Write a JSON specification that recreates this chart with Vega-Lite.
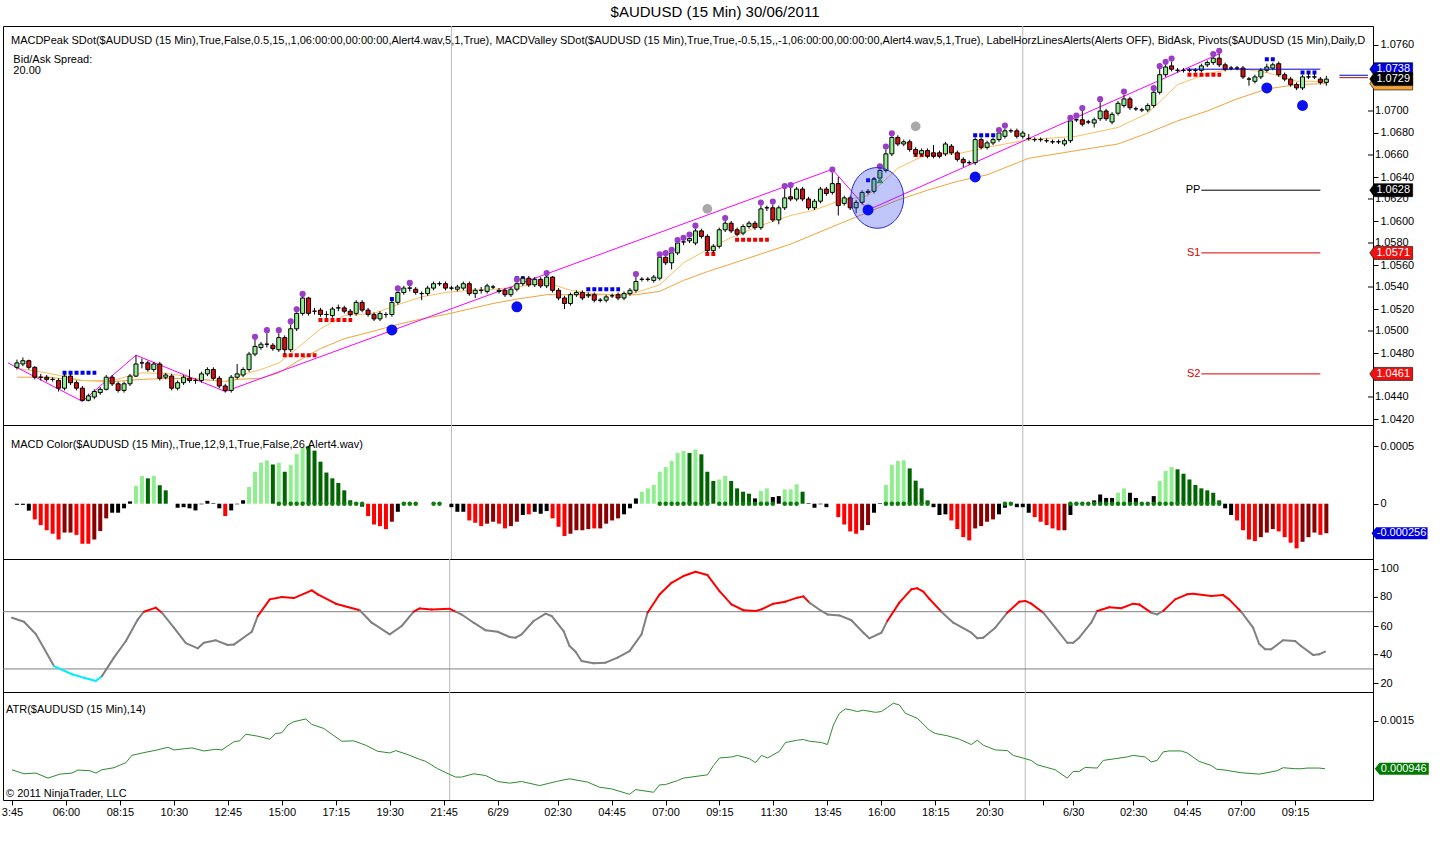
{
  "$schema": "https://vega.github.io/schema/vega-lite/v6.json",
  "padding": {"top": 5, "left": 0, "right": 0, "bottom": 0},
  "background": "white",
  "spacing": 0,
  "bounds": "flush",
  "resolve": {"scale": {"color": "independent"}},
  "title": {"text": "$AUDUSD (15 Min)  30/06/2011", "fontSize": 15, "fontWeight": "normal", "font": "Liberation Sans", "color": "#000000", "offset": 5, "anchor": "middle"},
  "config": {
    "font": "Liberation Sans",
    "view": {"stroke": "#000000", "strokeWidth": 1},
    "axis": {"grid": false, "domain": false, "labelFont": "Liberation Sans", "labelFontSize": 11, "labelColor": "#000000", "tickColor": "#000000", "tickSize": 5, "labelPadding": 2, "labelOverlap": false, "labelBound": false}
  },
  "datasets": {
    "sessions": [{"i": 73}, {"i": 169}],
    "pticks": [{"v":1.044},{"v":1.05},{"v":1.054},{"v":1.058},{"v":1.062},{"v":1.066},{"v":1.07}],
    "oticks": [{"v":40},{"v":80}],
    "bars": [
      {"i":0,"o":1.0467,"h":1.0474,"l":1.0465,"c":1.0471,"m":-0.00001,"s":"k"},
      {"i":1,"o":1.047,"h":1.0476,"l":1.0468,"c":1.0473,"m":-0.00001,"s":"k"},
      {"i":2,"o":1.0473,"h":1.0474,"l":1.0465,"c":1.0467,"m":-0.00006,"s":"k"},
      {"i":3,"o":1.0467,"h":1.0468,"l":1.0456,"c":1.0458,"m":-0.000136,"s":"rd"},
      {"i":4,"o":1.0458,"h":1.0461,"l":1.0455,"c":1.0458,"m":-0.000185,"s":"rd"},
      {"i":5,"o":1.0458,"h":1.046,"l":1.0454,"c":1.0456,"m":-0.00023,"s":"rd"},
      {"i":6,"o":1.0456,"h":1.0458,"l":1.0454,"c":1.0456,"m":-0.00026,"s":"rd"},
      {"i":7,"o":1.0455,"h":1.0457,"l":1.0445,"c":1.0448,"m":-0.00031,"s":"rd"},
      {"i":8,"o":1.0448,"h":1.0461,"l":1.0446,"c":1.0459,"m":-0.00025,"s":"ru"},
      {"i":9,"o":1.0459,"h":1.0461,"l":1.0451,"c":1.0453,"m":-0.00025,"s":"ru"},
      {"i":10,"o":1.0453,"h":1.0455,"l":1.0446,"c":1.0448,"m":-0.00027,"s":"rd"},
      {"i":11,"o":1.0448,"h":1.045,"l":1.0436,"c":1.0437,"m":-0.000347,"s":"rd"},
      {"i":12,"o":1.0437,"h":1.0443,"l":1.0436,"c":1.0441,"m":-0.000347,"s":"rd"},
      {"i":13,"o":1.044,"h":1.0447,"l":1.0438,"c":1.0445,"m":-0.00031,"s":"ru"},
      {"i":14,"o":1.0444,"h":1.0449,"l":1.0442,"c":1.0447,"m":-0.000237,"s":"ru"},
      {"i":15,"o":1.0447,"h":1.046,"l":1.0446,"c":1.0458,"m":-0.000127,"s":"ru"},
      {"i":16,"o":1.0458,"h":1.046,"l":1.045,"c":1.0452,"m":-0.000078,"s":"k"},
      {"i":17,"o":1.0452,"h":1.0454,"l":1.0444,"c":1.0446,"m":-0.000078,"s":"k"},
      {"i":18,"o":1.0446,"h":1.0454,"l":1.0444,"c":1.0452,"m":-0.00004,"s":"k"},
      {"i":19,"o":1.0452,"h":1.0461,"l":1.045,"c":1.0459,"m":0.00002,"s":"k"},
      {"i":20,"o":1.0459,"h":1.0478,"l":1.0458,"c":1.047,"m":0.000153,"s":"gu"},
      {"i":21,"o":1.0471,"h":1.0475,"l":1.0466,"c":1.0471,"m":0.00024,"s":"gu"},
      {"i":22,"o":1.0471,"h":1.0473,"l":1.0463,"c":1.0465,"m":0.00022,"s":"gd"},
      {"i":23,"o":1.0465,"h":1.0472,"l":1.0463,"c":1.047,"m":0.00024,"s":"gu"},
      {"i":24,"o":1.047,"h":1.0472,"l":1.0455,"c":1.0457,"m":0.00016,"s":"gd"},
      {"i":25,"o":1.0458,"h":1.0462,"l":1.0456,"c":1.046,"m":0.000116,"s":"gd"},
      {"i":26,"o":1.0459,"h":1.0461,"l":1.0446,"c":1.0448,"m":0,"s":"k"},
      {"i":27,"o":1.0448,"h":1.0455,"l":1.0446,"c":1.0453,"m":-0.000035,"s":"k"},
      {"i":28,"o":1.0453,"h":1.046,"l":1.0451,"c":1.0458,"m":-0.00003,"s":"k"},
      {"i":29,"o":1.0457,"h":1.0465,"l":1.0453,"c":1.0455,"m":-0.00004,"s":"k"},
      {"i":30,"o":1.0455,"h":1.0457,"l":1.0452,"c":1.0455,"m":-0.000058,"s":"k"},
      {"i":31,"o":1.0455,"h":1.0463,"l":1.0453,"c":1.0461,"m":-0.000005,"s":"k"},
      {"i":32,"o":1.0461,"h":1.0467,"l":1.0459,"c":1.0465,"m":0.000025,"s":"k"},
      {"i":33,"o":1.0465,"h":1.0467,"l":1.0455,"c":1.0457,"m":0.000005,"s":"k"},
      {"i":34,"o":1.0457,"h":1.0459,"l":1.0448,"c":1.045,"m":-0.00004,"s":"k"},
      {"i":35,"o":1.045,"h":1.0452,"l":1.0444,"c":1.0446,"m":-0.000107,"s":"rd"},
      {"i":36,"o":1.0446,"h":1.046,"l":1.0444,"c":1.0458,"m":-0.000058,"s":"k"},
      {"i":37,"o":1.0458,"h":1.047,"l":1.0456,"c":1.0461,"m":-0.000005,"s":"k"},
      {"i":38,"o":1.046,"h":1.0467,"l":1.0458,"c":1.0465,"m":0.00003,"s":"k"},
      {"i":39,"o":1.0465,"h":1.0481,"l":1.0463,"c":1.0479,"m":0.000145,"s":"gu"},
      {"i":40,"o":1.0479,"h":1.0492,"l":1.0477,"c":1.0486,"m":0.000277,"s":"gu","pk":1},
      {"i":41,"o":1.0485,"h":1.049,"l":1.0483,"c":1.0488,"m":0.000355,"s":"gu"},
      {"i":42,"o":1.0488,"h":1.0498,"l":1.0485,"c":1.0488,"m":0.000376,"s":"gu","pk":1},
      {"i":43,"o":1.0487,"h":1.0489,"l":1.0482,"c":1.0484,"m":0.00034,"s":"gd"},
      {"i":44,"o":1.0483,"h":1.0498,"l":1.0481,"c":1.0494,"m":0.000355,"s":"gu","pk":1,"g":1},
      {"i":45,"o":1.0494,"h":1.0496,"l":1.0479,"c":1.0483,"m":0.000277,"s":"gd","g":1},
      {"i":46,"o":1.0483,"h":1.0506,"l":1.0481,"c":1.0502,"m":0.000335,"s":"gu","pk":1,"g":1},
      {"i":47,"o":1.0502,"h":1.0517,"l":1.05,"c":1.0516,"m":0.00043,"s":"gu","pk":1,"g":1},
      {"i":48,"o":1.0516,"h":1.0531,"l":1.0514,"c":1.053,"m":0.00049,"s":"gu","pk":1,"g":1},
      {"i":49,"o":1.053,"h":1.0531,"l":1.0514,"c":1.0516,"m":0.0005,"s":"gd","g":1},
      {"i":50,"o":1.0518,"h":1.0521,"l":1.0515,"c":1.0518,"m":0.00046,"s":"gd","g":1},
      {"i":51,"o":1.0519,"h":1.0521,"l":1.0513,"c":1.0515,"m":0.000364,"s":"gd","g":1},
      {"i":52,"o":1.0515,"h":1.0518,"l":1.0512,"c":1.0515,"m":0.00027,"s":"gd","g":1},
      {"i":53,"o":1.0514,"h":1.0522,"l":1.0512,"c":1.052,"m":0.00022,"s":"gd","g":1},
      {"i":54,"o":1.0521,"h":1.0524,"l":1.0518,"c":1.0521,"m":0.00018,"s":"gd","g":1},
      {"i":55,"o":1.0521,"h":1.0523,"l":1.0516,"c":1.0518,"m":0.000116,"s":"gd","g":1},
      {"i":56,"o":1.0518,"h":1.052,"l":1.0513,"c":1.0515,"m":0.00003,"s":"gd","g":1},
      {"i":57,"o":1.0516,"h":1.0528,"l":1.0514,"c":1.0526,"m":0.00001,"s":"gd","g":1},
      {"i":58,"o":1.0526,"h":1.0528,"l":1.0517,"c":1.0519,"m":-0.000025,"s":"k","g":1},
      {"i":59,"o":1.0519,"h":1.0521,"l":1.0513,"c":1.0515,"m":-0.000107,"s":"rd"},
      {"i":60,"o":1.0515,"h":1.0517,"l":1.0509,"c":1.0511,"m":-0.00018,"s":"rd"},
      {"i":61,"o":1.0511,"h":1.0518,"l":1.0509,"c":1.0516,"m":-0.000194,"s":"rd"},
      {"i":62,"o":1.0515,"h":1.0517,"l":1.0512,"c":1.0515,"m":-0.00022,"s":"rd"},
      {"i":63,"o":1.0515,"h":1.0528,"l":1.0513,"c":1.0526,"m":-0.000156,"s":"ru"},
      {"i":64,"o":1.0526,"h":1.0536,"l":1.0524,"c":1.0535,"m":-0.00007,"s":"k","pk":1},
      {"i":65,"o":1.0535,"h":1.0541,"l":1.0533,"c":1.0539,"m":0.00001,"s":"k","g":1},
      {"i":66,"o":1.0539,"h":1.0541,"l":1.0536,"c":1.0539,"m":0.000005,"s":"k","pk":1,"g":1},
      {"i":67,"o":1.0538,"h":1.054,"l":1.0533,"c":1.0535,"m":0.000005,"s":"k","g":1},
      {"i":68,"o":1.0534,"h":1.0536,"l":1.0528,"c":1.0534,"m":0,"s":"k"},
      {"i":69,"o":1.0534,"h":1.0541,"l":1.0532,"c":1.0539,"m":0,"s":"k"},
      {"i":70,"o":1.0539,"h":1.0545,"l":1.0537,"c":1.0543,"m":0.000005,"s":"k","g":1},
      {"i":71,"o":1.0543,"h":1.0545,"l":1.0541,"c":1.0543,"m":0.000005,"s":"k","g":1},
      {"i":72,"o":1.0543,"h":1.0545,"l":1.0537,"c":1.0539,"m":0,"s":"k"},
      {"i":73,"o":1.0539,"h":1.0541,"l":1.0537,"c":1.0539,"m":-0.00003,"s":"k"},
      {"i":74,"o":1.0538,"h":1.0542,"l":1.0536,"c":1.054,"m":-0.00007,"s":"k"},
      {"i":75,"o":1.0539,"h":1.0545,"l":1.0537,"c":1.0543,"m":-0.00007,"s":"k"},
      {"i":76,"o":1.0543,"h":1.0545,"l":1.0532,"c":1.0534,"m":-0.000145,"s":"rd"},
      {"i":77,"o":1.0534,"h":1.0539,"l":1.053,"c":1.0537,"m":-0.000165,"s":"rd"},
      {"i":78,"o":1.0537,"h":1.054,"l":1.0534,"c":1.0537,"m":-0.000194,"s":"rd"},
      {"i":79,"o":1.0536,"h":1.0543,"l":1.0534,"c":1.0541,"m":-0.000173,"s":"ru"},
      {"i":80,"o":1.054,"h":1.0542,"l":1.0538,"c":1.054,"m":-0.000156,"s":"ru"},
      {"i":81,"o":1.0536,"h":1.0539,"l":1.0534,"c":1.0537,"m":-0.000173,"s":"rd"},
      {"i":82,"o":1.0537,"h":1.0539,"l":1.0531,"c":1.0533,"m":-0.000214,"s":"rd"},
      {"i":83,"o":1.0533,"h":1.054,"l":1.0531,"c":1.0538,"m":-0.000194,"s":"ru"},
      {"i":84,"o":1.0538,"h":1.0544,"l":1.0536,"c":1.0543,"m":-0.000156,"s":"ru","pk":1},
      {"i":85,"o":1.0543,"h":1.055,"l":1.0541,"c":1.0548,"m":-0.000098,"s":"k"},
      {"i":86,"o":1.0548,"h":1.055,"l":1.054,"c":1.0542,"m":-0.000092,"s":"rd"},
      {"i":87,"o":1.0542,"h":1.0549,"l":1.054,"c":1.0547,"m":-0.00007,"s":"k"},
      {"i":88,"o":1.0547,"h":1.0549,"l":1.0539,"c":1.0541,"m":-0.000087,"s":"k"},
      {"i":89,"o":1.0541,"h":1.055,"l":1.0539,"c":1.0549,"m":-0.000064,"s":"k","pk":1},
      {"i":90,"o":1.0549,"h":1.055,"l":1.0535,"c":1.0537,"m":-0.000127,"s":"rd"},
      {"i":91,"o":1.0537,"h":1.0539,"l":1.0528,"c":1.053,"m":-0.0002,"s":"rd"},
      {"i":92,"o":1.053,"h":1.0532,"l":1.052,"c":1.0525,"m":-0.00028,"s":"rd"},
      {"i":93,"o":1.0525,"h":1.0535,"l":1.0523,"c":1.0533,"m":-0.00026,"s":"ru"},
      {"i":94,"o":1.0533,"h":1.0537,"l":1.0531,"c":1.0535,"m":-0.00023,"s":"ru"},
      {"i":95,"o":1.0535,"h":1.0537,"l":1.0528,"c":1.053,"m":-0.00023,"s":"ru"},
      {"i":96,"o":1.0532,"h":1.0535,"l":1.053,"c":1.0533,"m":-0.00022,"s":"ru"},
      {"i":97,"o":1.0533,"h":1.0535,"l":1.0526,"c":1.0528,"m":-0.000214,"s":"rd"},
      {"i":98,"o":1.0528,"h":1.053,"l":1.0526,"c":1.0528,"m":-0.000214,"s":"ru"},
      {"i":99,"o":1.0528,"h":1.0533,"l":1.0526,"c":1.0531,"m":-0.000173,"s":"ru"},
      {"i":100,"o":1.0532,"h":1.0534,"l":1.053,"c":1.0532,"m":-0.000145,"s":"ru"},
      {"i":101,"o":1.0533,"h":1.0535,"l":1.0528,"c":1.053,"m":-0.000127,"s":"ru"},
      {"i":102,"o":1.053,"h":1.0536,"l":1.0528,"c":1.0534,"m":-0.000092,"s":"k"},
      {"i":103,"o":1.0534,"h":1.0539,"l":1.0532,"c":1.0537,"m":-0.00004,"s":"k"},
      {"i":104,"o":1.0537,"h":1.0549,"l":1.0535,"c":1.0545,"m":0.000046,"s":"k","pk":1},
      {"i":105,"o":1.0547,"h":1.0549,"l":1.0545,"c":1.0547,"m":0.000104,"s":"gu"},
      {"i":106,"o":1.0547,"h":1.0549,"l":1.0545,"c":1.0547,"m":0.000133,"s":"gu"},
      {"i":107,"o":1.0546,"h":1.0551,"l":1.0544,"c":1.0549,"m":0.000162,"s":"gu"},
      {"i":108,"o":1.0548,"h":1.0567,"l":1.0546,"c":1.0567,"m":0.000277,"s":"gu","pk":1,"g":1},
      {"i":109,"o":1.0567,"h":1.0568,"l":1.056,"c":1.0562,"m":0.000318,"s":"gu","pk":1,"g":1},
      {"i":110,"o":1.0562,"h":1.0571,"l":1.0556,"c":1.0571,"m":0.00037,"s":"gu","pk":1,"g":1},
      {"i":111,"o":1.0571,"h":1.058,"l":1.0569,"c":1.058,"m":0.00044,"s":"gu","pk":1,"g":1},
      {"i":112,"o":1.0581,"h":1.0582,"l":1.0578,"c":1.0581,"m":0.000457,"s":"gu","pk":1,"g":1},
      {"i":113,"o":1.0582,"h":1.0585,"l":1.058,"c":1.0584,"m":0.00044,"s":"gd","pk":1,"g":1},
      {"i":114,"o":1.058,"h":1.0593,"l":1.0578,"c":1.0591,"m":0.00047,"s":"gu","pk":1,"g":1},
      {"i":115,"o":1.0591,"h":1.0593,"l":1.0584,"c":1.0586,"m":0.000428,"s":"gd","g":1},
      {"i":116,"o":1.0586,"h":1.0588,"l":1.0571,"c":1.0573,"m":0.000277,"s":"gd","g":1},
      {"i":117,"o":1.0573,"h":1.0579,"l":1.0571,"c":1.0577,"m":0.000197,"s":"gd"},
      {"i":118,"o":1.0577,"h":1.0594,"l":1.0575,"c":1.0592,"m":0.00021,"s":"gu","g":1},
      {"i":119,"o":1.0592,"h":1.06,"l":1.059,"c":1.0598,"m":0.00024,"s":"gu","pk":1,"g":1},
      {"i":120,"o":1.0598,"h":1.06,"l":1.0589,"c":1.0591,"m":0.000197,"s":"gd","g":1},
      {"i":121,"o":1.0592,"h":1.0594,"l":1.0586,"c":1.0588,"m":0.000133,"s":"gd","g":1},
      {"i":122,"o":1.0589,"h":1.0597,"l":1.0587,"c":1.0595,"m":0.000104,"s":"gd","g":1},
      {"i":123,"o":1.0595,"h":1.06,"l":1.0593,"c":1.0598,"m":0.000087,"s":"gd","g":1},
      {"i":124,"o":1.0598,"h":1.06,"l":1.0592,"c":1.0594,"m":0.000046,"s":"k","g":1},
      {"i":125,"o":1.0594,"h":1.0614,"l":1.0592,"c":1.0611,"m":0.00011,"s":"gu","pk":1,"g":1},
      {"i":126,"o":1.0612,"h":1.0614,"l":1.0609,"c":1.0612,"m":0.000133,"s":"gu","g":1},
      {"i":127,"o":1.0612,"h":1.0615,"l":1.0599,"c":1.0601,"m":0.000058,"s":"k","pk":1,"g":1},
      {"i":128,"o":1.0601,"h":1.0614,"l":1.0597,"c":1.0612,"m":0.000066,"s":"k"},
      {"i":129,"o":1.0612,"h":1.0629,"l":1.061,"c":1.0621,"m":0.000124,"s":"gu","pk":1,"g":1},
      {"i":130,"o":1.0622,"h":1.063,"l":1.0618,"c":1.062,"m":0.000124,"s":"gu","pk":1,"g":1},
      {"i":131,"o":1.062,"h":1.0631,"l":1.0618,"c":1.0629,"m":0.000168,"s":"gu","g":1},
      {"i":132,"o":1.0629,"h":1.0631,"l":1.0618,"c":1.062,"m":0.000104,"s":"gd"},
      {"i":133,"o":1.062,"h":1.0622,"l":1.061,"c":1.0612,"m":0.000005,"s":"k"},
      {"i":134,"o":1.0612,"h":1.062,"l":1.061,"c":1.0618,"m":-0.000035,"s":"k"},
      {"i":135,"o":1.0618,"h":1.0631,"l":1.0616,"c":1.0629,"m":-0.000005,"s":"k"},
      {"i":136,"o":1.0629,"h":1.0631,"l":1.0623,"c":1.0625,"m":-0.00003,"s":"k"},
      {"i":137,"o":1.0626,"h":1.0644,"l":1.0624,"c":1.0634,"m":0,"s":"k","pk":1},
      {"i":138,"o":1.0634,"h":1.064,"l":1.0605,"c":1.0614,"m":-0.000116,"s":"rd"},
      {"i":139,"o":1.0616,"h":1.0623,"l":1.0614,"c":1.0621,"m":-0.00018,"s":"rd"},
      {"i":140,"o":1.0621,"h":1.0623,"l":1.061,"c":1.0612,"m":-0.00024,"s":"rd"},
      {"i":141,"o":1.0612,"h":1.0619,"l":1.0607,"c":1.0617,"m":-0.00026,"s":"rd"},
      {"i":142,"o":1.0617,"h":1.0628,"l":1.0615,"c":1.0626,"m":-0.00023,"s":"ru"},
      {"i":143,"o":1.0626,"h":1.0629,"l":1.0624,"c":1.0627,"m":-0.000185,"s":"ru"},
      {"i":144,"o":1.0627,"h":1.064,"l":1.0625,"c":1.0638,"m":-0.000078,"s":"k"},
      {"i":145,"o":1.0639,"h":1.0647,"l":1.0637,"c":1.0646,"m":0.000005,"s":"k","pk":1},
      {"i":146,"o":1.0646,"h":1.0665,"l":1.0644,"c":1.0661,"m":0.000162,"s":"gu","pk":1,"g":1},
      {"i":147,"o":1.0661,"h":1.0677,"l":1.0659,"c":1.0676,"m":0.000335,"s":"gu","pk":1,"g":1},
      {"i":148,"o":1.0676,"h":1.0678,"l":1.0668,"c":1.067,"m":0.00037,"s":"gu","g":1},
      {"i":149,"o":1.067,"h":1.0674,"l":1.0668,"c":1.0672,"m":0.000376,"s":"gu","g":1},
      {"i":150,"o":1.0672,"h":1.0674,"l":1.0663,"c":1.0665,"m":0.000306,"s":"gd","g":1},
      {"i":151,"o":1.0665,"h":1.0667,"l":1.0659,"c":1.0661,"m":0.0002,"s":"gd","g":1},
      {"i":152,"o":1.0661,"h":1.0666,"l":1.0659,"c":1.0664,"m":0.000133,"s":"gd","g":1},
      {"i":153,"o":1.0664,"h":1.0666,"l":1.0657,"c":1.0659,"m":0.000029,"s":"gd","g":1},
      {"i":154,"o":1.0662,"h":1.0669,"l":1.0657,"c":1.0659,"m":-0.00003,"s":"k"},
      {"i":155,"o":1.0662,"h":1.0664,"l":1.0657,"c":1.0659,"m":-0.000098,"s":"k"},
      {"i":156,"o":1.0661,"h":1.0672,"l":1.0659,"c":1.067,"m":-0.000092,"s":"k"},
      {"i":157,"o":1.0668,"h":1.067,"l":1.066,"c":1.0662,"m":-0.000145,"s":"rd"},
      {"i":158,"o":1.0662,"h":1.0664,"l":1.0654,"c":1.0656,"m":-0.00022,"s":"rd"},
      {"i":159,"o":1.0656,"h":1.0658,"l":1.0649,"c":1.0653,"m":-0.000289,"s":"rd"},
      {"i":160,"o":1.0653,"h":1.0655,"l":1.0651,"c":1.0653,"m":-0.000318,"s":"rd"},
      {"i":161,"o":1.0653,"h":1.0676,"l":1.0651,"c":1.0674,"m":-0.000214,"s":"ru"},
      {"i":162,"o":1.0674,"h":1.0676,"l":1.0665,"c":1.0667,"m":-0.000194,"s":"ru"},
      {"i":163,"o":1.0667,"h":1.0673,"l":1.0665,"c":1.0671,"m":-0.000156,"s":"ru"},
      {"i":164,"o":1.0671,"h":1.0676,"l":1.0669,"c":1.0674,"m":-0.000136,"s":"ru"},
      {"i":165,"o":1.0674,"h":1.068,"l":1.0672,"c":1.068,"m":-0.000092,"s":"k","pk":1},
      {"i":166,"o":1.0677,"h":1.0684,"l":1.0675,"c":1.0682,"m":-0.000035,"s":"k","pk":1,"g":1},
      {"i":167,"o":1.0682,"h":1.0684,"l":1.068,"c":1.0682,"m":0.000005,"s":"k","g":1},
      {"i":168,"o":1.0682,"h":1.0684,"l":1.0675,"c":1.0677,"m":-0.00003,"s":"k"},
      {"i":169,"o":1.0677,"h":1.0682,"l":1.0675,"c":1.068,"m":-0.00003,"s":"k"},
      {"i":170,"o":1.0675,"h":1.0679,"l":1.0673,"c":1.0675,"m":-0.000078,"s":"k"},
      {"i":171,"o":1.0674,"h":1.0676,"l":1.0672,"c":1.0674,"m":-0.000116,"s":"rd"},
      {"i":172,"o":1.0674,"h":1.0676,"l":1.0672,"c":1.0674,"m":-0.000156,"s":"rd"},
      {"i":173,"o":1.0673,"h":1.0675,"l":1.0671,"c":1.0673,"m":-0.000185,"s":"rd"},
      {"i":174,"o":1.0672,"h":1.0674,"l":1.067,"c":1.0672,"m":-0.000214,"s":"rd"},
      {"i":175,"o":1.0672,"h":1.0674,"l":1.067,"c":1.0672,"m":-0.00023,"s":"rd"},
      {"i":176,"o":1.067,"h":1.0675,"l":1.0668,"c":1.0673,"m":-0.00023,"s":"ru"},
      {"i":177,"o":1.0673,"h":1.0691,"l":1.0671,"c":1.0691,"m":-0.000098,"s":"k","pk":1,"g":1},
      {"i":178,"o":1.0692,"h":1.0693,"l":1.069,"c":1.0692,"m":0.000005,"s":"k","pk":1,"g":1},
      {"i":179,"o":1.0692,"h":1.07,"l":1.0686,"c":1.0688,"m":0.000005,"s":"k","pk":1,"g":1},
      {"i":180,"o":1.069,"h":1.0692,"l":1.0688,"c":1.069,"m":0.000005,"s":"k","g":1},
      {"i":181,"o":1.0689,"h":1.0694,"l":1.0685,"c":1.0692,"m":0.000029,"s":"k","g":1},
      {"i":182,"o":1.0693,"h":1.0708,"l":1.0691,"c":1.07,"m":0.00008,"s":"k","pk":1,"g":1},
      {"i":183,"o":1.07,"h":1.0702,"l":1.0691,"c":1.0693,"m":0.00005,"s":"k","g":1},
      {"i":184,"o":1.069,"h":1.0699,"l":1.0688,"c":1.0697,"m":0.00005,"s":"k","g":1},
      {"i":185,"o":1.0698,"h":1.0709,"l":1.0696,"c":1.0707,"m":0.000095,"s":"gu","g":1},
      {"i":186,"o":1.0705,"h":1.0715,"l":1.0703,"c":1.0711,"m":0.000133,"s":"gu","pk":1,"g":1},
      {"i":187,"o":1.0711,"h":1.0713,"l":1.0701,"c":1.0703,"m":0.000095,"s":"k","g":1},
      {"i":188,"o":1.0702,"h":1.0704,"l":1.07,"c":1.0702,"m":0.00005,"s":"k","g":1},
      {"i":189,"o":1.0701,"h":1.0703,"l":1.0699,"c":1.0701,"m":0.000005,"s":"k","g":1},
      {"i":190,"o":1.0701,"h":1.0707,"l":1.0699,"c":1.0705,"m":0.000005,"s":"k","g":1},
      {"i":191,"o":1.0705,"h":1.0718,"l":1.0703,"c":1.0717,"m":0.000066,"s":"k","pk":1,"g":1},
      {"i":192,"o":1.0717,"h":1.0738,"l":1.0715,"c":1.0733,"m":0.000197,"s":"gu","pk":1,"g":1},
      {"i":193,"o":1.0733,"h":1.0742,"l":1.0731,"c":1.074,"m":0.000283,"s":"gu","pk":1,"g":1},
      {"i":194,"o":1.0741,"h":1.0745,"l":1.0736,"c":1.0738,"m":0.000318,"s":"gu","pk":1,"g":1},
      {"i":195,"o":1.0737,"h":1.0739,"l":1.0735,"c":1.0737,"m":0.000298,"s":"gd","g":1},
      {"i":196,"o":1.0737,"h":1.0739,"l":1.0735,"c":1.0737,"m":0.00026,"s":"gd","g":1},
      {"i":197,"o":1.0737,"h":1.0739,"l":1.0735,"c":1.0737,"m":0.00021,"s":"gd","g":1},
      {"i":198,"o":1.0737,"h":1.0739,"l":1.0735,"c":1.0737,"m":0.000162,"s":"gd","g":1},
      {"i":199,"o":1.0737,"h":1.0743,"l":1.0735,"c":1.0741,"m":0.000133,"s":"gd","g":1},
      {"i":200,"o":1.0742,"h":1.0746,"l":1.074,"c":1.0744,"m":0.000116,"s":"gd","g":1},
      {"i":201,"o":1.0744,"h":1.0749,"l":1.0742,"c":1.0748,"m":0.000095,"s":"gd","pk":1,"g":1},
      {"i":202,"o":1.0748,"h":1.0752,"l":1.074,"c":1.0742,"m":0.000029,"s":"gd","pk":1,"g":1},
      {"i":203,"o":1.0742,"h":1.0744,"l":1.0736,"c":1.0738,"m":-0.00004,"s":"k"},
      {"i":204,"o":1.0739,"h":1.0741,"l":1.0737,"c":1.0739,"m":-0.000098,"s":"k"},
      {"i":205,"o":1.0739,"h":1.0741,"l":1.0737,"c":1.0739,"m":-0.000145,"s":"rd"},
      {"i":206,"o":1.0739,"h":1.0741,"l":1.0729,"c":1.0731,"m":-0.00023,"s":"rd"},
      {"i":207,"o":1.0729,"h":1.0731,"l":1.0723,"c":1.0729,"m":-0.00031,"s":"rd"},
      {"i":208,"o":1.0727,"h":1.0733,"l":1.0725,"c":1.0731,"m":-0.000324,"s":"rd"},
      {"i":209,"o":1.0731,"h":1.0739,"l":1.0729,"c":1.0737,"m":-0.00029,"s":"ru"},
      {"i":210,"o":1.0737,"h":1.0743,"l":1.0735,"c":1.074,"m":-0.00025,"s":"ru"},
      {"i":211,"o":1.0739,"h":1.0744,"l":1.0737,"c":1.0742,"m":-0.00022,"s":"ru"},
      {"i":212,"o":1.0743,"h":1.0745,"l":1.0731,"c":1.0733,"m":-0.00024,"s":"rd"},
      {"i":213,"o":1.0733,"h":1.0735,"l":1.0727,"c":1.0729,"m":-0.00029,"s":"rd"},
      {"i":214,"o":1.0729,"h":1.0731,"l":1.0722,"c":1.0724,"m":-0.000338,"s":"rd"},
      {"i":215,"o":1.0724,"h":1.0726,"l":1.0719,"c":1.0721,"m":-0.000387,"s":"rd"},
      {"i":216,"o":1.0721,"h":1.0733,"l":1.0719,"c":1.0731,"m":-0.00033,"s":"ru"},
      {"i":217,"o":1.0731,"h":1.0736,"l":1.0729,"c":1.0731,"m":-0.00029,"s":"ru"},
      {"i":218,"o":1.0731,"h":1.0734,"l":1.0729,"c":1.0731,"m":-0.00025,"s":"ru"},
      {"i":219,"o":1.0729,"h":1.0731,"l":1.0724,"c":1.0726,"m":-0.00027,"s":"rd"},
      {"i":220,"o":1.0726,"h":1.0732,"l":1.0723,"c":1.0729,"m":-0.000256,"s":"ru"}
    ],
    "ma": [
      {"i":0,"f":1.0466,"s":1.0458},{"i":5,"f":1.0462,"s":1.0458},{"i":11,"f":1.0455,"s":1.0455},{"i":16,"f":1.0455,"s":1.0454},
      {"i":21,"f":1.0462,"s":1.0456},{"i":26,"f":1.0461,"s":1.0457},{"i":31,"f":1.0456,"s":1.0456},{"i":35,"f":1.0454,"s":1.0454},
      {"i":37,"f":1.0459,"s":1.0456},{"i":41,"f":1.0465,"s":1.0457},{"i":44,"f":1.0471,"s":1.0462},{"i":47,"f":1.0484,"s":1.0472},
      {"i":51,"f":1.0502,"s":1.0484},{"i":55,"f":1.0514,"s":1.0493},{"i":60,"f":1.0516,"s":1.05},{"i":64,"f":1.0524,"s":1.0506},
      {"i":68,"f":1.0531,"s":1.0511},{"i":72,"f":1.0535,"s":1.0515},{"i":76,"f":1.0537,"s":1.052},{"i":80,"f":1.0538,"s":1.0525},
      {"i":84,"f":1.054,"s":1.0529},{"i":89,"f":1.0544,"s":1.0533},{"i":93,"f":1.0537,"s":1.0533},{"i":97,"f":1.0534,"s":1.0533},
      {"i":100,"f":1.0533,"s":1.0533},{"i":104,"f":1.0535,"s":1.0533},{"i":108,"f":1.0542,"s":1.0536},{"i":112,"f":1.0562,"s":1.0546},
      {"i":116,"f":1.0574,"s":1.0554},{"i":120,"f":1.0585,"s":1.0561},{"i":125,"f":1.0596,"s":1.057},{"i":130,"f":1.0605,"s":1.0579},
      {"i":134,"f":1.061,"s":1.0588},{"i":138,"f":1.0618,"s":1.0597},{"i":143,"f":1.0623,"s":1.0608},{"i":148,"f":1.0648,"s":1.0619},
      {"i":153,"f":1.0661,"s":1.0628},{"i":158,"f":1.0661,"s":1.0636},{"i":163,"f":1.0667,"s":1.0642},{"i":170,"f":1.0674,"s":1.0657},
      {"i":178,"f":1.0677,"s":1.0664},{"i":185,"f":1.0685,"s":1.067},{"i":190,"f":1.0698,"s":1.068},{"i":195,"f":1.0724,"s":1.0691},
      {"i":200,"f":1.0734,"s":1.07},{"i":205,"f":1.0739,"s":1.0711},{"i":210,"f":1.0735,"s":1.072},{"i":215,"f":1.0727,"s":1.0724},
      {"i":220,"f":1.0727,"s":1.0725}
    ],
    "zz": [
      {"i":-1.5,"p":1.0471},{"i":11,"p":1.0436},{"i":20,"p":1.0478},{"i":35,"p":1.0445},
      {"i":137,"p":1.0647},{"i":143,"p":1.061},{"i":202,"p":1.0752}
    ],
    "sdots": [
      {"a":8,"b":13,"p":1.0462,"k":"hi"},{"a":63,"b":64,"p":1.0529,"k":"hi"},{"a":84,"b":85,"p":1.0548,"k":"hi"},
      {"a":96,"b":101,"p":1.0538,"k":"hi"},{"a":143,"b":144,"p":1.0637,"k":"hi"},{"a":161,"b":165,"p":1.0678,"k":"hi"},
      {"a":210,"b":211,"p":1.0747,"k":"hi"},{"a":216,"b":218,"p":1.0735,"k":"hi"},
      {"a":45,"b":50,"p":1.0478,"k":"lo"},{"a":51,"b":56,"p":1.051,"k":"lo"},{"a":116,"b":117,"p":1.057,"k":"lo"},
      {"a":121,"b":126,"p":1.0583,"k":"lo"},{"a":151,"b":155,"p":1.066,"k":"lo"},{"a":197,"b":202,"p":1.0733,"k":"lo"}
    ],
    "valleys": [
      {"i":63,"p":1.0501},{"i":84,"p":1.0522},{"i":143,"p":1.061},{"i":161,"p":1.064},{"i":210,"p":1.0721},{"i":216,"p":1.0705}
    ],
    "greys": [{"i":116,"p":1.0611},{"i":151,"p":1.0686}],
    "pivots": [{"n":"PP","v":1.0628},{"n":"S1","v":1.0571},{"n":"S2","v":1.0461}],
    "levels": [{"n":"MA","v":1.0725},{"n":"HL","v":1.0738},{"n":"Last","v":1.0729},{"n":"PP","v":1.0628},{"n":"S1","v":1.0571},{"n":"S2","v":1.0461}],
    "obos": [{"v":30},{"v":70}],
    "osc": [
      {"i":0,"v":65.8,"z":"n"},{"i":2,"v":63,"z":"n"},{"i":4,"v":54.2,"z":"n"},{"i":7,"v":32,"z":"c"},{"i":10,"v":26.3,"z":"c"},
      {"i":12,"v":23.9,"z":"c"},{"i":14,"v":21.6,"z":"c"},{"i":15,"v":25,"z":"n"},{"i":17,"v":37.9,"z":"n"},{"i":19,"v":49.5,"z":"n"},
      {"i":21,"v":64.7,"z":"n"},{"i":22,"v":70,"z":"r"},{"i":24,"v":72.8,"z":"r"},{"i":25,"v":69.3,"z":"n"},{"i":27,"v":58.8,"z":"n"},
      {"i":29,"v":48,"z":"n"},{"i":31,"v":44.4,"z":"n"},{"i":32,"v":48.3,"z":"n"},{"i":34,"v":50,"z":"n"},{"i":36,"v":46.7,"z":"n"},
      {"i":37,"v":47,"z":"n"},{"i":40,"v":56,"z":"n"},{"i":41,"v":67,"z":"r"},{"i":43,"v":78.6,"z":"r"},{"i":45,"v":80.2,"z":"r"},
      {"i":47,"v":79.5,"z":"r"},{"i":50,"v":84.9,"z":"r"},{"i":51,"v":82.1,"z":"r"},{"i":54,"v":75.6,"z":"r"},{"i":56,"v":73.3,"z":"r"},
      {"i":58,"v":71,"z":"n"},{"i":60,"v":62.3,"z":"n"},{"i":63,"v":54.2,"z":"n"},{"i":65,"v":60,"z":"n"},{"i":67,"v":70,"z":"r"},
      {"i":68,"v":72.3,"z":"r"},{"i":70,"v":71.6,"z":"r"},{"i":73,"v":72,"z":"r"},{"i":74,"v":70,"z":"n"},{"i":75,"v":68,"z":"n"},
      {"i":77,"v":62.3,"z":"n"},{"i":79,"v":57,"z":"n"},{"i":81,"v":56,"z":"n"},{"i":83,"v":52.3,"z":"n"},{"i":84,"v":51.8,"z":"n"},
      {"i":85,"v":54.2,"z":"n"},{"i":87,"v":63.5,"z":"n"},{"i":89,"v":68.6,"z":"n"},{"i":90,"v":67,"z":"n"},{"i":92,"v":56.5,"z":"n"},
      {"i":93,"v":46,"z":"n"},{"i":94,"v":42,"z":"n"},{"i":95,"v":35.6,"z":"n"},{"i":97,"v":34,"z":"n"},{"i":99,"v":34.4,"z":"n"},
      {"i":101,"v":37.9,"z":"n"},{"i":103,"v":42.5,"z":"n"},{"i":105,"v":54.2,"z":"n"},{"i":106,"v":69.3,"z":"r"},{"i":108,"v":82,"z":"r"},
      {"i":110,"v":90.2,"z":"r"},{"i":112,"v":94.9,"z":"r"},{"i":114,"v":97.9,"z":"r"},{"i":116,"v":95.6,"z":"r"},{"i":118,"v":84.4,"z":"r"},
      {"i":120,"v":75.1,"z":"r"},{"i":122,"v":71,"z":"r"},{"i":124,"v":70.5,"z":"r"},{"i":125,"v":71.6,"z":"r"},{"i":127,"v":75.6,"z":"r"},
      {"i":129,"v":77,"z":"r"},{"i":131,"v":79.8,"z":"r"},{"i":132,"v":80.7,"z":"r"},{"i":133,"v":76.3,"z":"n"},{"i":135,"v":70.5,"z":"n"},
      {"i":136,"v":68.1,"z":"n"},{"i":138,"v":67.4,"z":"n"},{"i":140,"v":64,"z":"n"},{"i":142,"v":55.3,"z":"n"},{"i":143,"v":51.4,"z":"n"},
      {"i":145,"v":55.3,"z":"n"},{"i":146,"v":63.5,"z":"r"},{"i":148,"v":76.3,"z":"r"},{"i":150,"v":85.6,"z":"r"},{"i":151,"v":86.3,"z":"r"},
      {"i":152,"v":84,"z":"r"},{"i":153,"v":79,"z":"r"},{"i":155,"v":70,"z":"n"},{"i":157,"v":62.3,"z":"n"},{"i":160,"v":55.3,"z":"n"},
      {"i":161,"v":51.4,"z":"n"},{"i":162,"v":51.8,"z":"n"},{"i":164,"v":58.8,"z":"n"},{"i":166,"v":69.3,"z":"r"},{"i":168,"v":77,"z":"r"},
      {"i":169,"v":77.5,"z":"r"},{"i":170,"v":75.6,"z":"r"},{"i":172,"v":69.3,"z":"n"},{"i":174,"v":58.8,"z":"n"},{"i":176,"v":48.3,"z":"n"},
      {"i":177,"v":48.3,"z":"n"},{"i":178,"v":51.8,"z":"n"},{"i":180,"v":62.3,"z":"n"},{"i":181,"v":70.5,"z":"r"},{"i":183,"v":73.1,"z":"r"},
      {"i":185,"v":72.4,"z":"r"},{"i":187,"v":75.6,"z":"r"},{"i":188,"v":75.1,"z":"r"},{"i":190,"v":69.3,"z":"n"},{"i":191,"v":68.1,"z":"n"},
      {"i":192,"v":70.5,"z":"r"},{"i":194,"v":78.6,"z":"r"},{"i":196,"v":82.1,"z":"r"},{"i":197,"v":82.6,"z":"r"},{"i":200,"v":80.9,"z":"r"},
      {"i":202,"v":81.6,"z":"r"},{"i":203,"v":78.6,"z":"r"},{"i":205,"v":70,"z":"n"},{"i":207,"v":58.8,"z":"n"},{"i":208,"v":47.6,"z":"n"},
      {"i":209,"v":43.7,"z":"n"},{"i":210,"v":43.7,"z":"n"},{"i":212,"v":50,"z":"n"},{"i":214,"v":49.5,"z":"n"},{"i":215,"v":46,"z":"n"},
      {"i":217,"v":39.8,"z":"n"},{"i":218,"v":40.2,"z":"n"},{"i":219,"v":42.1,"z":"n"}
    ],
    "atr": [
      {"i":0,"a":0.000934},{"i":2,"a":0.000888},{"i":4,"a":0.000896},{"i":6,"a":0.000838},{"i":8,"a":0.000884},{"i":10,"a":0.000896},
      {"i":11,"a":0.000931},{"i":13,"a":0.000923},{"i":14,"a":0.000896},{"i":15,"a":0.000934},{"i":17,"a":0.000958},{"i":19,"a":0.001016},
      {"i":20,"a":0.0011},{"i":22,"a":0.001132},{"i":24,"a":0.001159},{"i":26,"a":0.001193},{"i":27,"a":0.001163},{"i":30,"a":0.001186},
      {"i":32,"a":0.001151},{"i":34,"a":0.00117},{"i":35,"a":0.001163},{"i":37,"a":0.001256},{"i":38,"a":0.001268},{"i":39,"a":0.001344},
      {"i":41,"a":0.001321},{"i":43,"a":0.001286},{"i":44,"a":0.001352},{"i":45,"a":0.00136},{"i":46,"a":0.001449},{"i":47,"a":0.001488},
      {"i":49,"a":0.001519},{"i":50,"a":0.001457},{"i":52,"a":0.00141},{"i":55,"a":0.001263},{"i":57,"a":0.001267},{"i":59,"a":0.001217},
      {"i":61,"a":0.001147},{"i":63,"a":0.001128},{"i":64,"a":0.001155},{"i":66,"a":0.001109},{"i":68,"a":0.001054},{"i":69,"a":0.001031},
      {"i":71,"a":0.000946},{"i":73,"a":0.00088},{"i":74,"a":0.00085},{"i":75,"a":0.00085},{"i":77,"a":0.000888},{"i":79,"a":0.000868},
      {"i":81,"a":0.000799},{"i":83,"a":0.00078},{"i":85,"a":0.000799},{"i":88,"a":0.000752},{"i":91,"a":0.000803},{"i":93,"a":0.00083},
      {"i":96,"a":0.000792},{"i":98,"a":0.000733},{"i":100,"a":0.000714},{"i":103,"a":0.000652},{"i":104,"a":0.000706},{"i":107,"a":0.000675},
      {"i":108,"a":0.00076},{"i":109,"a":0.000764},{"i":111,"a":0.00081},{"i":112,"a":0.000838},{"i":116,"a":0.000876},{"i":117,"a":0.000984},
      {"i":118,"a":0.00107},{"i":120,"a":0.001082},{"i":121,"a":0.0011},{"i":123,"a":0.001062},{"i":124,"a":0.001016},{"i":125,"a":0.0011},
      {"i":126,"a":0.00107},{"i":128,"a":0.001147},{"i":129,"a":0.001248},{"i":131,"a":0.001275},{"i":132,"a":0.001283},{"i":133,"a":0.001263},
      {"i":135,"a":0.001248},{"i":136,"a":0.001225},{"i":137,"a":0.001449},{"i":138,"a":0.001585},{"i":139,"a":0.001635},{"i":140,"a":0.001623},
      {"i":141,"a":0.001605},{"i":142,"a":0.00162},{"i":144,"a":0.001596},{"i":145,"a":0.001605},{"i":146,"a":0.001651},{"i":147,"a":0.001701},
      {"i":148,"a":0.001681},{"i":149,"a":0.001585},{"i":151,"a":0.001527},{"i":153,"a":0.001391},{"i":154,"a":0.001352},{"i":156,"a":0.001326},
      {"i":158,"a":0.001286},{"i":160,"a":0.001225},{"i":161,"a":0.001275},{"i":162,"a":0.001217},{"i":164,"a":0.001163},{"i":166,"a":0.001155},
      {"i":167,"a":0.0011},{"i":169,"a":0.001062},{"i":170,"a":0.001042},{"i":171,"a":0.000992},{"i":174,"a":0.000934},{"i":176,"a":0.000838},
      {"i":177,"a":0.000915},{"i":178,"a":0.000915},{"i":179,"a":0.000961},{"i":181,"a":0.000954},{"i":182,"a":0.001042},{"i":184,"a":0.001062},
      {"i":186,"a":0.001082},{"i":187,"a":0.0011},{"i":189,"a":0.001082},{"i":190,"a":0.001024},{"i":191,"a":0.001042},{"i":192,"a":0.00114},
      {"i":193,"a":0.001151},{"i":195,"a":0.001151},{"i":196,"a":0.001128},{"i":198,"a":0.001031},{"i":200,"a":0.000984},{"i":201,"a":0.000938},
      {"i":202,"a":0.000934},{"i":205,"a":0.0009},{"i":208,"a":0.000884},{"i":209,"a":0.000896},{"i":211,"a":0.000923},{"i":212,"a":0.000958},
      {"i":214,"a":0.000946},{"i":215,"a":0.000946},{"i":216,"a":0.000954},{"i":218,"a":0.000954},{"i":219,"a":0.000946}
    ]
  },
  "vconcat": [
    {
      "width": 1370,
      "height": 399,
      "resolve": {"scale": {"color": "independent"}},
      "layer": [
        {"data": {"name": "sessions"}, "mark": {"type": "rule", "color": "#b9b9b9", "strokeWidth": 1},
          "encoding": {"x": {"field": "i", "type": "quantitative", "scale": {"domain": [-1.5, 227], "nice": false, "zero": false}, "axis": null}}},
        {
          "data": {"name": "ma"},
          "mark": {"type": "line", "color": "#f2a33a", "strokeWidth": 1},
          "encoding": {
            "x": {"field": "i", "type": "quantitative", "axis": null},
            "y": {"field": "s", "type": "quantitative", "scale": {"domain": [1.041455, 1.077727], "nice": false, "zero": false},
              "axis": {"orient": "right", "title": null, "format": ".4f", "labelOverlap": false, "values": [1.042, 1.044, 1.048, 1.05, 1.052, 1.054, 1.056, 1.058, 1.06, 1.062, 1.064, 1.066, 1.068, 1.07, 1.076]}}
          }
        },
        {"data": {"name": "ma"}, "mark": {"type": "line", "color": "#fbbf5e", "strokeWidth": 1},
          "encoding": {"x": {"field": "i", "type": "quantitative", "axis": null}, "y": {"field": "f", "type": "quantitative"}}},
        {"data": {"name": "zz"}, "mark": {"type": "line", "color": "#ff00ff", "strokeWidth": 1},
          "encoding": {"x": {"field": "i", "type": "quantitative", "axis": null}, "y": {"field": "p", "type": "quantitative"}}},
        {
          "data": {"name": "sdots"},
          "mark": {"type": "rule", "strokeWidth": 4, "strokeDash": [4, 2], "xOffset": -2, "x2Offset": 2},
          "encoding": {
            "x": {"field": "a", "type": "quantitative", "axis": null},
            "x2": {"field": "b"},
            "y": {"field": "p", "type": "quantitative"},
            "color": {"field": "k", "type": "nominal", "scale": {"domain": ["hi", "lo"], "range": ["#0000ee", "#ee0000"]}, "legend": null}
          }
        },
        {"data": {"name": "bars"}, "mark": {"type": "rule", "color": "#000000", "strokeWidth": 1},
          "encoding": {"x": {"field": "i", "type": "quantitative", "axis": null}, "y": {"field": "l", "type": "quantitative"}, "y2": {"field": "h"}}},
        {
          "data": {"name": "bars"},
          "mark": {"type": "bar", "width": 4, "stroke": "#000000", "strokeWidth": 1},
          "encoding": {
            "x": {"field": "i", "type": "quantitative", "axis": null},
            "y": {"field": "o", "type": "quantitative"},
            "y2": {"field": "c"},
            "fill": {"condition": {"test": "datum.c >= datum.o", "value": "#90ee90"}, "value": "#d40f0f"}
          }
        },
        {
          "data": {"name": "bars"},
          "transform": [{"filter": "datum.pk == 1"}],
          "mark": {"type": "circle", "size": 38, "color": "#9a3dc8", "opacity": 1, "yOffset": -3},
          "encoding": {"x": {"field": "i", "type": "quantitative", "axis": null}, "y": {"field": "h", "type": "quantitative"}}
        },
        {"data": {"name": "greys"}, "mark": {"type": "circle", "size": 95, "color": "#a9a9a9", "opacity": 1},
          "encoding": {"x": {"field": "i", "type": "quantitative", "axis": null}, "y": {"field": "p", "type": "quantitative"}}},
        {
          "data": {"values": [{}]},
          "mark": {"type": "point", "shape": "M-0.87,0A0.87,1,0,1,0,0.87,0A0.87,1,0,1,0,-0.87,0Z", "size": 3684, "filled": true, "fill": "#3040ee", "fillOpacity": 0.3, "stroke": "#2a2ad0", "strokeWidth": 1, "opacity": 1},
          "encoding": {"x": {"datum": 144.55, "axis": null}, "y": {"datum": 1.0621}}
        },
        {"data": {"name": "valleys"}, "mark": {"type": "circle", "size": 120, "color": "#0a10ee", "opacity": 1},
          "encoding": {"x": {"field": "i", "type": "quantitative", "axis": null}, "y": {"field": "p", "type": "quantitative"}}},
        {
          "data": {"values": [{}]},
          "mark": {"type": "point", "shape": "triangle-up", "size": 50, "filled": true, "color": "#2e8b6e", "opacity": 1},
          "encoding": {"x": {"datum": 145, "axis": null}, "y": {"datum": 1.0637}}
        },
        {
          "data": {"values": [{}]},
          "mark": {"type": "rule", "color": "#0000cc", "strokeWidth": 1},
          "encoding": {"x": {"datum": 196.5, "axis": null}, "x2": {"datum": 219}, "y": {"datum": 1.0738}}
        },
        {
          "data": {"values": [{}]},
          "mark": {"type": "rule", "color": "#0000cc", "strokeWidth": 1},
          "encoding": {"x": {"datum": 222.2, "axis": null}, "x2": {"datum": 227}, "y": {"datum": 1.07325}}
        },
        {
          "data": {"values": [{}]},
          "mark": {"type": "rule", "color": "#b01010", "strokeWidth": 1},
          "encoding": {"x": {"datum": 222.2, "axis": null}, "x2": {"datum": 227}, "y": {"datum": 1.07303}}
        },
        {
          "data": {"name": "pivots"},
          "mark": {"type": "rule", "strokeWidth": 1},
          "encoding": {
            "x": {"datum": 199, "axis": null}, "x2": {"datum": 219},
            "y": {"field": "v", "type": "quantitative"},
            "color": {"field": "n", "type": "nominal", "scale": {"domain": ["PP", "S1", "S2"], "range": ["#000000", "#dd0000", "#dd0000"]}, "legend": null}
          }
        },
        {
          "data": {"name": "pivots"},
          "mark": {"type": "text", "align": "right", "baseline": "middle", "fontSize": 11, "dx": -1},
          "encoding": {
            "x": {"datum": 199, "axis": null},
            "y": {"field": "v", "type": "quantitative"},
            "text": {"field": "n"},
            "color": {"field": "n", "type": "nominal", "scale": {"domain": ["PP", "S1", "S2"], "range": ["#000000", "#dd0000", "#dd0000"]}, "legend": null}
          }
        },
        {
          "data": {"name": "pticks"},
          "mark": {"type": "rule", "color": "#000000", "strokeWidth": 1},
          "encoding": {"x": {"datum": 227, "axis": null}, "x2": {"datum": 227.83}, "y": {"field": "v", "type": "quantitative"}}
        },
        {
          "data": {"name": "pticks"},
          "mark": {"type": "text", "align": "left", "baseline": "middle", "fontSize": 11, "color": "#000000", "dx": 7},
          "encoding": {"x": {"datum": 227, "axis": null}, "y": {"field": "v", "type": "quantitative"}, "text": {"field": "v", "format": ".4f"}}
        },
        {
          "data": {"name": "levels"},
          "mark": {"type": "point", "shape": "M-3.3,0L-2.6,-1L3.3,-1L3.3,1L-2.6,1Z", "size": 169, "filled": true, "opacity": 1, "stroke": "#000000", "strokeWidth": 0.6},
          "encoding": {
            "x": {"datum": 230.9, "axis": null},
            "y": {"field": "v", "type": "quantitative"},
            "color": {"field": "n", "type": "nominal", "scale": {"domain": ["MA", "HL", "Last", "PP", "S1", "S2"], "range": ["#f2a33a", "#0000dd", "#000000", "#000000", "#ee1111", "#ee1111"]}, "legend": null}
          }
        },
        {
          "data": {"name": "levels"},
          "transform": [{"filter": "datum.n != 'MA'"}],
          "mark": {"type": "text", "align": "center", "baseline": "middle", "fontSize": 11, "color": "#ffffff", "dx": 2},
          "encoding": {
            "x": {"datum": 230.9, "axis": null},
            "y": {"field": "v", "type": "quantitative"},
            "text": {"field": "v", "format": ".4f"}
          }
        },
        {
          "data": {"values": [{}]},
          "mark": {"type": "text", "align": "left", "baseline": "middle", "fontSize": 11, "color": "#000000", "limit": 1364, "ellipsis": ""},
          "encoding": {
            "x": {"datum": -1, "axis": null},
            "y": {"datum": 1.07636},
            "text": {"value": "MACDPeak SDot($AUDUSD (15 Min),True,False,0.5,15,,1,06:00:00,00:00:00,Alert4.wav,5,1,True),  MACDValley SDot($AUDUSD (15 Min),True,True,-0.5,15,,-1,06:00:00,00:00:00,Alert4.wav,5,1,True), LabelHorzLinesAlerts(Alerts OFF), BidAsk, Pivots($AUDUSD (15 Min),Daily,D"}
          }
        },
        {
          "data": {"values": [{}]},
          "mark": {"type": "text", "align": "left", "baseline": "middle", "fontSize": 11, "color": "#000000"},
          "encoding": {"x": {"datum": -0.6, "axis": null}, "y": {"datum": 1.07464}, "text": {"value": "Bid/Ask Spread:"}}
        },
        {
          "data": {"values": [{}]},
          "mark": {"type": "text", "align": "left", "baseline": "middle", "fontSize": 11, "color": "#000000"},
          "encoding": {"x": {"datum": -0.6, "axis": null}, "y": {"datum": 1.07364}, "text": {"value": "20.00"}}
        }
      ]
    },
    {
      "width": 1370,
      "height": 134,
      "layer": [
        {"data": {"name": "sessions"}, "mark": {"type": "rule", "color": "#b9b9b9", "strokeWidth": 1},
          "encoding": {"x": {"field": "i", "type": "quantitative", "scale": {"domain": [-1.5, 227], "nice": false, "zero": false}, "axis": null}}},
        {
          "data": {"name": "bars"},
          "mark": {"type": "bar", "width": 4},
          "encoding": {
            "x": {"field": "i", "type": "quantitative", "axis": null},
            "y": {"field": "m", "type": "quantitative", "scale": {"domain": [-0.000479, 0.000682], "nice": false, "zero": false},
              "axis": {"orient": "right", "title": null, "values": [0.0005, 0], "format": ".4~f", "labelOverlap": false}},
            "y2": {"datum": 0},
            "color": {"field": "s", "type": "nominal", "scale": {"domain": ["gu", "gd", "rd", "ru", "k"], "range": ["#90ee90", "#006400", "#ff0000", "#8b0000", "#000000"]}, "legend": null}
          }
        },
        {
          "data": {"name": "bars"},
          "transform": [{"filter": "datum.g == 1"}],
          "mark": {"type": "circle", "size": 20, "color": "#0b7d0b", "opacity": 1},
          "encoding": {"x": {"field": "i", "type": "quantitative", "axis": null}, "y": {"datum": 0}}
        },
        {
          "data": {"values": [{}]},
          "mark": {"type": "text", "align": "left", "baseline": "middle", "fontSize": 11, "color": "#000000"},
          "encoding": {"x": {"datum": -1, "axis": null}, "y": {"datum": 0.000509}, "text": {"value": "MACD Color($AUDUSD (15 Min),,True,12,9,1,True,False,26,Alert4.wav)"}}
        },
        {
          "data": {"values": [{}]},
          "mark": {"type": "point", "shape": "M-4.67,0L-3.9,-1L4.67,-1L4.67,1L-3.9,1Z", "size": 144, "filled": true, "color": "#0000dd", "opacity": 1},
          "encoding": {"x": {"datum": 232.3, "axis": null}, "y": {"datum": -0.000256}}
        },
        {
          "data": {"values": [{}]},
          "mark": {"type": "text", "align": "center", "baseline": "middle", "fontSize": 11, "color": "#ffffff", "dx": 2},
          "encoding": {"x": {"datum": 232.3, "axis": null}, "y": {"datum": -0.000256}, "text": {"value": "-0.000256"}}
        }
      ]
    },
    {
      "width": 1370,
      "height": 133,
      "layer": [
        {"data": {"name": "sessions"}, "mark": {"type": "rule", "color": "#b9b9b9", "strokeWidth": 1},
          "encoding": {"x": {"field": "i", "type": "quantitative", "scale": {"domain": [-1.5, 227], "nice": false, "zero": false}, "axis": null}}},
        {
          "data": {"name": "obos"},
          "mark": {"type": "rule", "color": "#808080", "strokeWidth": 1},
          "encoding": {
            "x": {"datum": -1.5, "axis": null}, "x2": {"datum": 227},
            "y": {"field": "v", "type": "quantitative", "scale": {"domain": [13.9, 106.8], "nice": false, "zero": false},
              "axis": {"orient": "right", "title": null, "values": [20, 40, 60, 80, 100], "labelOverlap": false}}
          }
        },
        {
          "data": {"name": "oticks"},
          "mark": {"type": "rule", "color": "#000000", "strokeWidth": 1},
          "encoding": {"x": {"datum": 227, "axis": null}, "x2": {"datum": 227.83}, "y": {"field": "v", "type": "quantitative"}}
        },
        {
          "data": {"name": "oticks"},
          "mark": {"type": "text", "align": "left", "baseline": "middle", "fontSize": 11, "color": "#000000", "dx": 7},
          "encoding": {"x": {"datum": 227, "axis": null}, "y": {"field": "v", "type": "quantitative"}, "text": {"field": "v"}}
        },
        {
          "data": {"name": "osc"},
          "transform": [
            {"window": [{"op": "lead", "field": "i", "as": "i2"}, {"op": "lead", "field": "v", "as": "v2"}], "sort": [{"field": "i"}]},
            {"filter": "isValid(datum.i2)"}
          ],
          "mark": {"type": "rule", "strokeWidth": 2, "strokeCap": "round"},
          "encoding": {
            "x": {"field": "i", "type": "quantitative", "axis": null},
            "x2": {"field": "i2"},
            "y": {"field": "v", "type": "quantitative"},
            "y2": {"field": "v2"},
            "color": {"field": "z", "type": "nominal", "scale": {"domain": ["n", "r", "c"], "range": ["#808080", "#ff0000", "#00eeff"]}, "legend": null}
          }
        }
      ]
    },
    {
      "width": 1370,
      "height": 108,
      "layer": [
        {"data": {"name": "sessions"}, "mark": {"type": "rule", "color": "#b9b9b9", "strokeWidth": 1},
          "encoding": {"x": {"field": "i", "type": "quantitative", "scale": {"domain": [-1.5, 227], "nice": false, "zero": false}}}},
        {
          "data": {"name": "atr"},
          "mark": {"type": "line", "color": "#2f8a2f", "strokeWidth": 1},
          "encoding": {
            "x": {"field": "i", "type": "quantitative",
              "axis": {"orient": "bottom", "title": null, "labelOverlap": false, "labelFlush": false, "labelPadding": 1, "tickSize": 5,
                "values": [0, 9, 18, 27, 36, 45, 54, 63, 72, 81, 91, 100, 109, 118, 127, 136, 145, 154, 163, 172, 177, 187, 196, 205, 214],
                "labelExpr": "['3:45','06:00','08:15','10:30','12:45','15:00','17:15','19:30','21:45','6/29','02:30','04:45','07:00','09:15','11:30','13:45','16:00','18:15','20:30','','6/30','02:30','04:45','07:00','09:15'][indexof([0,9,18,27,36,45,54,63,72,81,91,100,109,118,127,136,145,154,163,172,177,187,196,205,214], datum.value)]"}},
            "y": {"field": "a", "type": "quantitative", "scale": {"domain": [0.000586, 0.00183], "nice": false, "zero": false},
              "axis": {"orient": "right", "title": null, "values": [0.0015], "format": ".4f", "labelOverlap": false}}
          }
        },
        {
          "data": {"values": [{}]},
          "mark": {"type": "text", "align": "left", "baseline": "middle", "fontSize": 11, "color": "#000000"},
          "encoding": {"x": {"datum": -1}, "y": {"datum": 0.00162}, "text": {"value": "ATR($AUDUSD (15 Min),14)"}}
        },
        {
          "data": {"values": [{}]},
          "mark": {"type": "text", "align": "left", "baseline": "middle", "fontSize": 11, "color": "#000000"},
          "encoding": {"x": {"datum": -1}, "y": {"datum": 0.000656}, "text": {"value": "© 2011 NinjaTrader, LLC"}}
        },
        {
          "data": {"values": [{}]},
          "mark": {"type": "point", "shape": "M-4.5,0L-3.7,-1L4.5,-1L4.5,1L-3.7,1Z", "size": 144, "filled": true, "color": "#007a00", "opacity": 1},
          "encoding": {"x": {"datum": 231.8}, "y": {"datum": 0.000946}}
        },
        {
          "data": {"values": [{}]},
          "mark": {"type": "text", "align": "center", "baseline": "middle", "fontSize": 11, "color": "#ffffff", "dx": 2},
          "encoding": {"x": {"datum": 231.8}, "y": {"datum": 0.000946}, "text": {"value": "0.000946"}}
        }
      ]
    }
  ]
}
